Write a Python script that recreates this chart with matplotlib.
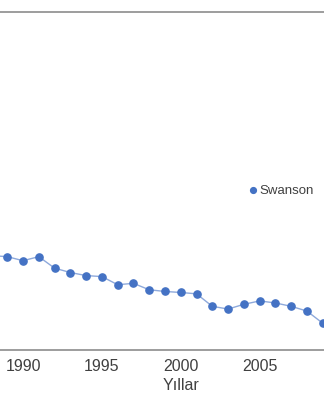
import matplotlib
matplotlib.use('Agg')
import matplotlib.pyplot as plt
from matplotlib import font_manager

plt.rcParams['font.family'] = ['Liberation Sans', 'DejaVu Sans']

# ==================== DATA ====================
years = [1988, 1989, 1990, 1991, 1992, 1993, 1994, 1995, 1996, 1997, 1998,
         1999, 2000, 2001, 2002, 2003, 2004, 2005, 2006, 2007, 2008, 2009]
values = [27.8, 27.5, 26.3, 27.5, 24.1, 22.8, 21.9, 21.6, 19.2, 19.6, 17.7,
          17.2, 16.9, 16.5, 12.8, 12.0, 13.4, 14.4, 13.8, 12.8, 11.4, 7.8]
tick_years = [1990, 1995, 2000, 2005]
series_name = 'Swanson'
x_title = 'Yıllar'

# visible window of the (cropped) chart
x_min, x_max = 1988.54, 2009.08
y_min, y_max = 0, 100

# axis texts look condensed in the reference, use the narrow face if we have it
installed = {f.name for f in font_manager.fontManager.ttflist}
axis_font = ['Liberation Sans Narrow', 'Liberation Sans'] if 'Liberation Sans Narrow' in installed else ['Liberation Sans']

# ==================== PLOT ====================
fig = plt.figure(figsize=(3.24, 4.0), dpi=100)
ax = fig.add_axes([0.0, 0.126, 1.0, 0.845])

ax.plot(years, values, color='#8EA9DB', linewidth=1.0, zorder=2)
ax.plot(years, values, linestyle='none', marker='o', markersize=5.2,
        color='#4472C4', label=series_name, zorder=3)

ax.set_xlim(x_min, x_max)
ax.set_ylim(y_min, y_max)
ax.set_xticks(tick_years)
ax.set_xticklabels([str(y) for y in tick_years], family=axis_font)
ax.set_yticks([])
ax.tick_params(axis='x', length=0, pad=7, labelsize=11.5, labelcolor='#404040')

for side in ['left', 'right']:
    ax.spines[side].set_visible(False)
for side in ['top', 'bottom']:
    ax.spines[side].set_color('#8C8C8C')
    ax.spines[side].set_linewidth(1.2)

ax.set_xlabel(x_title, fontsize=11.5, color='#404040', family=axis_font)
ax.xaxis.set_label_coords((2000 - x_min) / (x_max - x_min), -0.085)

ax.legend(loc='center left', bbox_to_anchor=(250 / 324, 1 - 191 / 400),
          bbox_transform=fig.transFigure, frameon=False, handlelength=0.5,
          handletextpad=0.25, borderpad=0, borderaxespad=0, markerscale=0.8,
          fontsize=9.5, labelcolor='#404040')

fig.savefig('out.png', dpi=100)
